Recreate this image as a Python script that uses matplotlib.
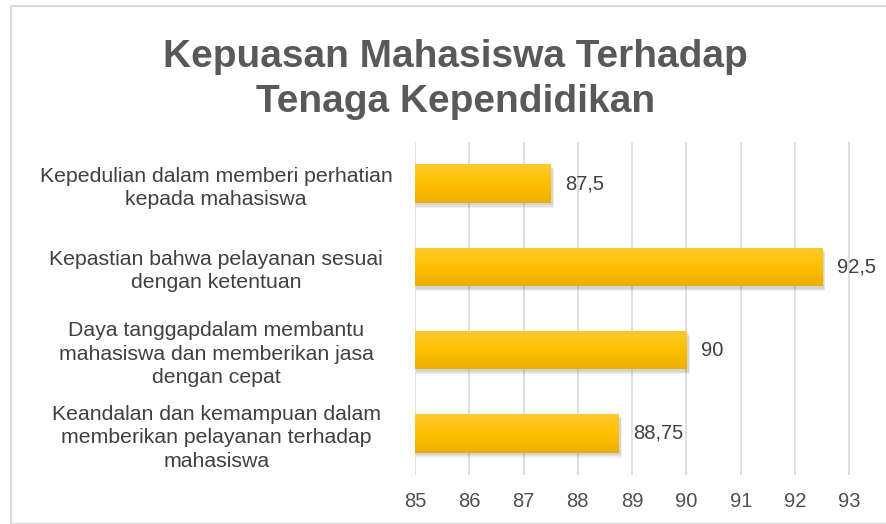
import numpy as np
import matplotlib
matplotlib.use("Agg")
import matplotlib.pyplot as plt
from matplotlib.patches import Rectangle

plt.rcParams['font.family'] = ['Liberation Sans', 'DejaVu Sans']

# data
categories = [
    "Kepedulian dalam memberi perhatian\nkepada mahasiswa",
    "Kepastian bahwa pelayanan sesuai\ndengan ketentuan",
    "Daya tanggapdalam membantu\nmahasiswa dan memberikan jasa\ndengan cepat",
    "Keandalan dan kemampuan dalam\nmemberikan pelayanan terhadap\nmahasiswa",
]
values = [87.5, 92.5, 90, 88.75]
value_labels = ["87,5", "92,5", "90", "88,75"]
ticks = [85, 86, 87, 88, 89, 90, 91, 92, 93]

fig = plt.figure(figsize=(8.86, 5.24), dpi=100)
W, H = 886, 524
ax = fig.add_axes([415 / W, 1 - 475 / H, (852 - 415) / W, (475 - 142) / H])

y = np.arange(len(values))
bar_h = 0.46
x0 = 85

# gradient for the bars
grad = np.linspace(0, 1, 64).reshape(-1, 1)
cmap = matplotlib.colors.LinearSegmentedColormap.from_list(
    "gold", ["#FFCA30", "#FFC000", "#EDAE00"])

for yi, v in zip(y, values):
    # soft shadow, a few layers
    for k, a in enumerate([0.10, 0.10, 0.12]):
        off = 0.06 - k * 0.015
        sh = Rectangle((x0 + 0.02, yi - bar_h / 2 + off), v - x0 + 0.04 - k * 0.01,
                       bar_h, facecolor="#707070", alpha=a, edgecolor="none",
                       zorder=2)
        ax.add_patch(sh)
    bar = ax.barh(yi, v - x0, left=x0, height=bar_h, color="#FFC000",
                  edgecolor="none", zorder=3)[0]
    im = ax.imshow(grad, cmap=cmap, aspect="auto", zorder=4,
                   extent=[x0, v, yi + bar_h / 2, yi - bar_h / 2])
    im.set_clip_path(bar)

for yi, v, lab in zip(y, values, value_labels):
    ax.text(v + 0.27, yi, lab, va="center", ha="left", fontsize=14.5,
            color="#404040", zorder=5)

ax.set_xlim(85, 93.05)
ax.set_ylim(len(values) - 0.5, -0.5)
ax.set_xticks(ticks)
ax.set_xticklabels([str(t) for t in ticks], fontsize=14.5, color="#505050")
ax.set_yticks(y)
ax.set_yticklabels(categories, fontsize=15.3, color="#404040", ha="center",
                   linespacing=1.3)
for lab in ax.get_yticklabels():
    lab.set_x(-0.455)
ax.tick_params(axis="y", length=0, pad=0)
ax.tick_params(axis="x", length=0, pad=12)
ax.grid(axis="x", color="#d9d9d9", linewidth=1.2, zorder=0)
for s in ax.spines.values():
    s.set_visible(False)

fig.text(0.514, 1 - 57 / H, "Kepuasan Mahasiswa Terhadap", ha="center",
         va="center", fontsize=28, fontweight="bold", color="#595959")
fig.text(0.514, 1 - 102 / H, "Tenaga Kependidikan", ha="center",
         va="center", fontsize=28, fontweight="bold", color="#595959")

# outer chart frame
fig.patches.append(Rectangle((11 / W, 0), 1, 1 - 6 / H, transform=fig.transFigure,
                             fill=False, edgecolor="#d9d9d9", linewidth=1.5))

fig.savefig("out.png", dpi=100)
